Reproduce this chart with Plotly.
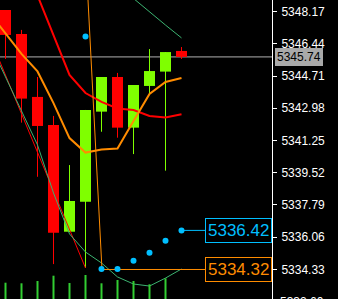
import plotly.graph_objects as go

# ---- data ----
idx = list(range(12))
opens = [5348.26, 5346.97, 5343.59, 5342.08, 5336.35, 5337.96, 5342.80, 5344.66, 5341.94, 5344.18, 5344.95, 5346.06]
highs = [5348.26, 5347.19, 5344.66, 5342.57, 5339.93, 5342.89, 5344.66, 5344.88, 5344.23, 5346.16, 5346.00, 5346.27]
lows = [5345.63, 5342.21, 5339.30, 5334.61, 5336.33, 5334.40, 5341.72, 5341.40, 5340.52, 5343.69, 5339.63, 5345.63]
closes = [5346.92, 5343.50, 5342.03, 5336.30, 5338.00, 5342.89, 5344.66, 5341.94, 5344.23, 5344.98, 5346.00, 5345.74]
vol_idx = list(range(11))
volumes = [163, 157, 180, 233, 160, 240, 157, 190, 180, 147, 207]

ind_idx = list(range(-1, 12))
ma_red = [None, None, None, 5349.04, 5346.88, 5344.77, 5343.80, 5343.32, 5342.97, 5342.89, 5342.57, 5342.48, 5342.66]
ma_orange = [5348.10, 5346.97, 5345.90, 5344.96, 5343.26, 5341.38, 5340.60, 5340.77, 5340.82, 5342.30, 5343.75, 5344.39, 5344.61]
band_upper = [None] * 9 + [5348.88, 5348.15, 5347.45, 5346.76]
band_lower = [5346.49, 5344.66, 5342.83, 5341.01, 5338.43, 5336.23, 5335.26, 5334.67, 5333.92, 5333.54, 5333.43, 5333.86, 5334.35]

zigzag_x = [-1, 5]
zigzag_y = [5346.83, 5334.40]

sar_idx = [5, 6, 7, 8, 9, 10, 11]
sar = [5346.83, 5334.35, 5334.35, 5334.79, 5335.22, 5335.87, 5336.42]

trend_x = [5.156, 6.03]
trend_y = [5348.80, 5334.32]
level_price = 5334.32

ytick_vals = [5348.17, 5346.44, 5344.71, 5342.98, 5341.25, 5339.52, 5337.79, 5336.06, 5334.33]
cut_tick = 5332.60

x_range = [-0.34375, 16.65625]
y_range = [5332.735, 5348.797]

RED = "#FF0000"
LIME = "#7FFF00"
ORANGE = "#FF8C00"
BLUE = "#00BFFF"
SEA = "#3CB371"

fig = go.Figure()

up = [i for i in idx if closes[i] >= opens[i]]
dn = [i for i in idx if closes[i] < opens[i]]


def wicks(sel):
    xs, ys = [], []
    for i in sel:
        xs += [i, i, None]
        ys += [lows[i], highs[i], None]
    return xs, ys


for sel, col in ((up, LIME), (dn, RED)):
    fig.add_trace(go.Bar(
        x=sel,
        y=[abs(closes[i] - opens[i]) for i in sel],
        base=[min(opens[i], closes[i]) for i in sel],
        width=0.6875, marker=dict(color=col, line=dict(width=0)),
        showlegend=False, hoverinfo="skip"))
    wx, wy = wicks(sel)
    fig.add_trace(go.Scatter(x=wx, y=wy, mode="lines",
                             line=dict(color=col, width=1),
                             showlegend=False, hoverinfo="skip"))

# volumes on hidden overlay axis
fig.add_trace(go.Bar(x=vol_idx, y=volumes, width=0.125, yaxis="y2",
                     marker=dict(color="#32CD32", line=dict(width=0)),
                     showlegend=False, hoverinfo="skip"))

# indicators
fig.add_trace(go.Scatter(x=zigzag_x, y=zigzag_y, mode="lines",
                         line=dict(color=RED, width=1), showlegend=False))
fig.add_trace(go.Scatter(x=ind_idx, y=band_upper, mode="lines",
                         line=dict(color=SEA, width=1), showlegend=False))
fig.add_trace(go.Scatter(x=ind_idx, y=band_lower, mode="lines",
                         line=dict(color=SEA, width=1), showlegend=False))
fig.add_trace(go.Scatter(x=ind_idx, y=ma_red, mode="lines",
                         line=dict(color=RED, width=2), showlegend=False))
fig.add_trace(go.Scatter(x=ind_idx, y=ma_orange, mode="lines",
                         line=dict(color=ORANGE, width=2), showlegend=False))
fig.add_trace(go.Scatter(x=trend_x + [x_range[1]], y=trend_y + [level_price], mode="lines",
                         line=dict(color=ORANGE, width=1), showlegend=False))
fig.add_trace(go.Scatter(x=[sar_idx[-1], x_range[1]], y=[sar[-1], sar[-1]], mode="lines",
                         line=dict(color=BLUE, width=1), showlegend=False))
fig.add_trace(go.Scatter(x=sar_idx, y=sar, mode="markers",
                         marker=dict(color=BLUE, size=6, line=dict(width=0)),
                         showlegend=False))

# current price line
fig.add_shape(type="line", xref="paper", x0=0, x1=1, yref="y",
              y0=closes[-1], y1=closes[-1], line=dict(color="#B0B0B0", width=1),
              layer="below")

FONT = "Liberation Sans"
fig.add_annotation(xref="paper", x=1, xanchor="left", xshift=3, yref="y", y=closes[-1],
                   text=f"{closes[-1]:.2f}", showarrow=False,
                   font=dict(family=FONT, size=12, color="black"),
                   bgcolor="#A9A9A9", bordercolor="#A9A9A9", borderwidth=1, borderpad=1)
fig.add_annotation(xref="paper", x=1, xanchor="right", yref="y", y=sar[-1],
                   text=f"{sar[-1]:.2f}", showarrow=False,
                   font=dict(family=FONT, size=17, color=BLUE),
                   bgcolor="black", bordercolor=BLUE, borderwidth=1, borderpad=2)
fig.add_annotation(xref="paper", x=1, xanchor="right", yref="y", y=level_price,
                   text=f"{level_price:.2f}", showarrow=False,
                   font=dict(family=FONT, size=17, color=ORANGE),
                   bgcolor="black", bordercolor=ORANGE, borderwidth=1, borderpad=2)
fig.add_annotation(xref="paper", x=1, xanchor="left", xshift=6, yref="paper",
                   y=(cut_tick - y_range[0]) / (y_range[1] - y_range[0]), yanchor="middle",
                   text=f"{cut_tick:.2f}", showarrow=False,
                   font=dict(family=FONT, size=12, color="white"))

fig.update_layout(
    width=338, height=299,
    margin=dict(l=0, r=66, t=0, b=0),
    paper_bgcolor="black", plot_bgcolor="black",
    barmode="overlay",
    showlegend=False,
    xaxis=dict(range=x_range, visible=False, showgrid=False, zeroline=False),
    yaxis=dict(range=y_range, side="right", showgrid=False, zeroline=False,
               showline=True, linecolor="white", linewidth=1,
               ticks="outside", ticklen=4, tickcolor="white", tickwidth=1,
               tickvals=ytick_vals, ticktext=[f"{v:.2f}" for v in ytick_vals],
               tickfont=dict(family=FONT, size=12, color="white"),
               ticklabelstandoff=2),
    yaxis2=dict(range=[0, 2990], overlaying="y", visible=False, showgrid=False),
)

fig.write_html("out.html")
